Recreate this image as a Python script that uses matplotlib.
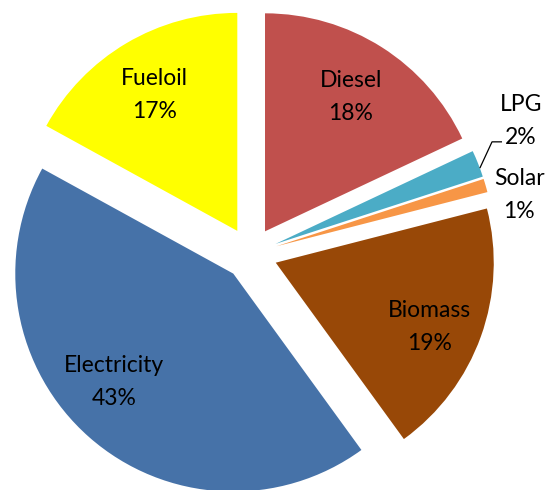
import numpy as np
import matplotlib.pyplot as plt

plt.rcParams['font.family'] = ['Lato', 'DejaVu Sans']

categories = ['Diesel', 'LPG', 'Solar', 'Biomass', 'Electricity', 'Fueloil']
shares = [18, 2, 1, 19, 43, 17]
colors = ['#C0504D', '#4BACC6', '#F79646', '#984807', '#4672A8', '#FFFF00']

# label placement: distance from slice tip (in radii) and angle nudge (deg)
label_dist = [0.707, 1.247, 1.133, 0.775, 0.761, 0.704]
label_nudge = [-1.5, 3.8, -5.75, -5.0, -4.6, 1.9]

px = 1 / 218  # one pixel in data units (radius is 218 px)

fig = plt.figure(figsize=(5.47, 4.9), dpi=100)
ax = fig.add_axes([0, 0, 1, 1])
wedges, _ = ax.pie(shares, colors=colors, startangle=90, counterclock=False,
                   explode=[0.1216] * len(shares), radius=1,
                   wedgeprops=dict(linewidth=0))
ax.set_xlim(-1.1505, 1.3587)
ax.set_ylim(-1.0839, 1.1638)
ax.set_aspect('auto')
ax.axis('off')

half_gap = 16.5 * px
label_pos = []
for w, name, val, k, nudge in zip(wedges, categories, shares, label_dist, label_nudge):
    ang = np.deg2rad((w.theta1 + w.theta2) / 2 + nudge)
    cx, cy = w.center
    x = cx + k * w.r * np.cos(ang)
    y = cy + k * w.r * np.sin(ang)
    label_pos.append((x, y))
    ax.text(x, y + half_gap, name, ha='center', va='baseline', fontsize=16.5, color='black')
    ax.text(x, y - half_gap, f'{val}%', ha='center', va='baseline', fontsize=16.5, color='black')

# leader line for LPG
w = wedges[1]
a = np.deg2rad(20.35)
x0 = w.center[0] + w.r * np.cos(a)
y0 = w.center[1] + w.r * np.sin(a)
lx, ly = label_pos[1]
ax.plot([x0, lx - 29 * px, lx - 19 * px], [y0, ly - 14.5 * px, ly - 14.5 * px],
        color='black', lw=0.9, solid_capstyle='butt')

fig.savefig('out.png', dpi=100)
